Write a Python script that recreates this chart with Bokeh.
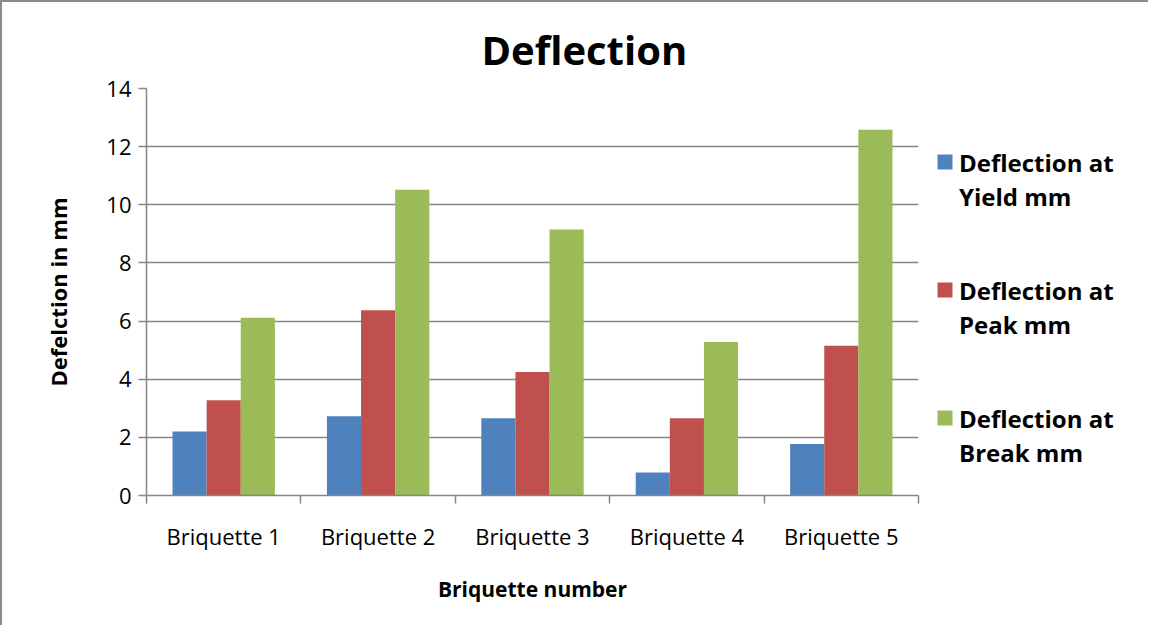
from bokeh.plotting import figure
from bokeh.layouts import row
from bokeh.models import ColumnDataSource, FixedTicker, Range1d
from bokeh.core.properties import value
from bokeh.embed import file_html
from bokeh.resources import INLINE

# ---- data ----
categories = ["Briquette 1", "Briquette 2", "Briquette 3", "Briquette 4", "Briquette 5"]
series_first_line = ["Deflection at", "Deflection at", "Deflection at"]
series_second_line = ["Yield mm", "Peak mm", "Break mm"]
yield_mm = [2.20, 2.73, 2.66, 0.79, 1.77]
peak_mm = [3.28, 6.37, 4.25, 2.66, 5.15]
break_mm = [6.11, 10.52, 9.15, 5.28, 12.58]
series_values = [yield_mm, peak_mm, break_mm]
colors = ["#4F81BD", "#C0504D", "#9BBB59"]
y_ticks = [0, 2, 4, 6, 8, 10, 12, 14]

# ---- layout constants ----
W, H = 926, 625
ML, MR, MT, MB = 144, 10, 86, 132
FRAME_H = H - MT - MB
W2 = 222
N = len(categories)
YMAX = 14
BAR_W = 0.221
FONT = "Open Sans"
GRID = "#868686"
BORDER = "2px solid #8c8c8c"

p = figure(width=W, height=H, x_range=Range1d(0, N), y_range=Range1d(0, YMAX),
           output_backend="svg", toolbar_location=None,
           min_border_left=ML, min_border_right=MR, min_border_top=MT, min_border_bottom=MB)
p.outline_line_color = None
p.styles = {"border-left": BORDER, "border-top": BORDER}

for j, vals in enumerate(series_values):
    xs = [i + 0.5 + (j - 1) * BAR_W for i in range(N)]
    src = ColumnDataSource(dict(x=xs, top=vals))
    p.vbar(x="x", top="top", width=BAR_W, bottom=0, source=src,
           fill_color=colors[j], line_color=None)

# title
p.title.text = "Deflection"
p.title.text_font = FONT
p.title.text_font_size = "40px"
p.title.text_font_style = "bold"
p.title.text_color = "black"
p.title.align = "left"
p.title.offset = 335
p.title.standoff = 23

# x axis
xa = p.xaxis[0]
xa.ticker = FixedTicker(ticks=[i + 0.5 for i in range(N)], minor_ticks=list(range(N + 1)))
xa.major_label_overrides = {i + 0.5: c for i, c in enumerate(categories)}
xa.major_tick_out = 0
xa.major_tick_in = 0
xa.minor_tick_out = 8
xa.minor_tick_in = 0
xa.minor_tick_line_color = GRID
xa.minor_tick_line_width = 1.5
xa.axis_line_color = GRID
xa.axis_line_width = 1.5
xa.major_label_text_font = FONT
xa.major_label_text_font_size = "22px"
xa.major_label_text_color = "black"
xa.major_label_standoff = 17
xa.axis_label = "Briquette number"
xa.axis_label_text_font = FONT
xa.axis_label_text_font_size = "21px"
xa.axis_label_text_font_style = "bold"
xa.axis_label_text_color = "black"
xa.axis_label_standoff = 21

# y axis
ya = p.yaxis[0]
ya.ticker = FixedTicker(ticks=y_ticks, minor_ticks=[])
ya.major_tick_out = 8
ya.major_tick_in = 0
ya.major_tick_line_color = GRID
ya.major_tick_line_width = 1.5
ya.axis_line_color = GRID
ya.axis_line_width = 1.5
ya.major_label_text_font = FONT
ya.major_label_text_font_size = "22px"
ya.major_label_text_color = "black"
ya.major_label_standoff = 7
ya.axis_label = "Defelction in mm"
ya.axis_label_text_font = FONT
ya.axis_label_text_font_size = "22px"
ya.axis_label_text_font_style = "bold"
ya.axis_label_text_color = "black"
ya.axis_label_standoff = 30

p.xgrid.visible = False
p.ygrid.grid_line_color = GRID
p.ygrid.grid_line_width = 1.5

# ---- legend panel (separate figure; its frame lines up with the chart frame;
#      units are pixels, y measured down from the frame top) ----
lg = figure(width=W2, height=H, x_range=Range1d(0, W2), y_range=Range1d(FRAME_H, 0),
            output_backend="svg", toolbar_location=None,
            min_border_left=0, min_border_right=0, min_border_top=MT, min_border_bottom=MB,
            x_axis_type=None, y_axis_type=None)
lg.outline_line_color = None
lg.grid.visible = False
lg.styles = {"border-top": BORDER}

SQ_L, SQ_W, TXT_X = 11, 15, 32.5
TOP0, PITCH, LINE = 66, 128, 34
sq_top = [TOP0 + j * PITCH for j in range(3)]
lg.quad(left=[SQ_L] * 3, right=[SQ_L + SQ_W] * 3,
        top=sq_top, bottom=[t + SQ_W for t in sq_top],
        fill_color=colors, line_color=None)
txt_src = ColumnDataSource(dict(
    x=[TXT_X] * 6,
    y=[t + 8 + k * LINE for t in sq_top for k in range(2)],
    text=[s for j in range(3) for s in (series_first_line[j], series_second_line[j])],
))
lg.text(x="x", y="y", text="text", source=txt_src,
        text_font=value(FONT), text_font_size="24px", text_font_style="bold",
        text_color="black", text_baseline="middle", text_align="left")

layout = row(p, lg)
open("out.html", "w").write(file_html(layout, INLINE))
